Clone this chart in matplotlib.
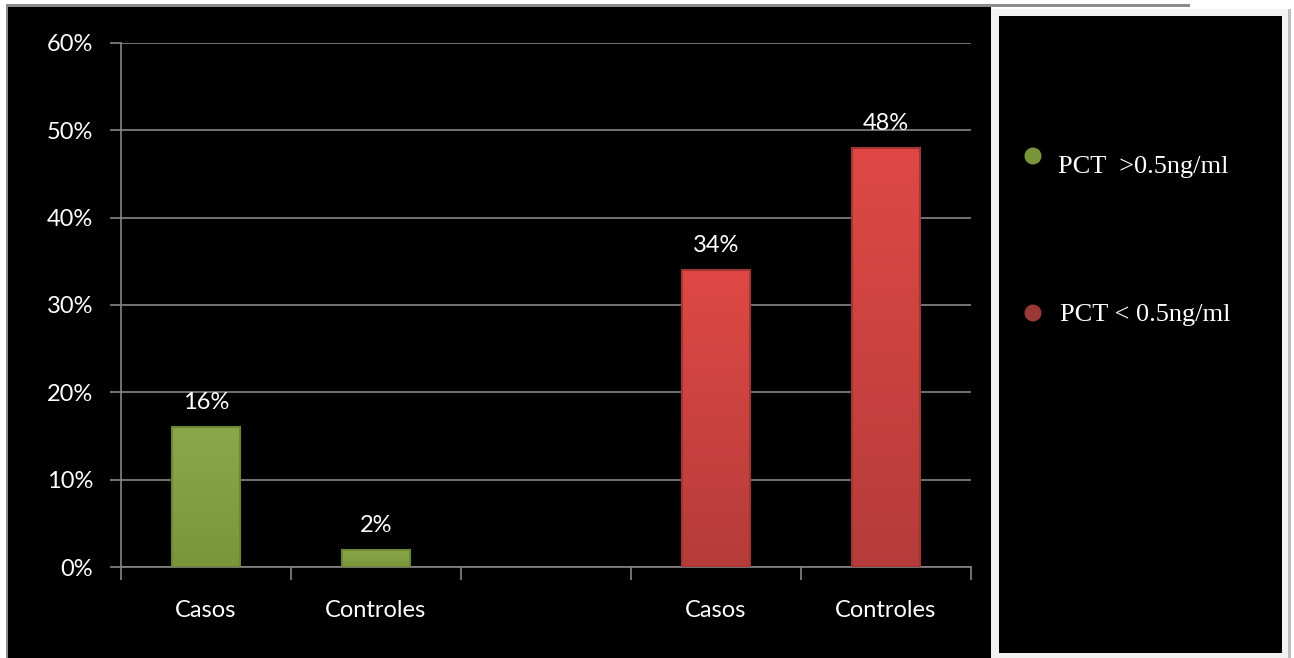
import matplotlib.pyplot as plt
import numpy as np
from matplotlib.colors import LinearSegmentedColormap
from matplotlib.patches import Rectangle, Ellipse

# data
categories = ["Casos", "Controles", "", "Casos", "Controles"]
green_values = [0.16, 0.02, 0, 0, 0]
red_values = [0, 0, 0, 0.34, 0.48]
y_ticks = [0, 0.1, 0.2, 0.3, 0.4, 0.5, 0.6]
legend_labels = ["PCT  >0.5ng/ml", "PCT < 0.5ng/ml"]

GREEN_TOP, GREEN_BOT = "#8aa84a", "#7a963b"
RED_TOP, RED_BOT = "#df4845", "#b53c3a"
GRID = "#868686"

W, H = 1294, 658
fig = plt.figure(figsize=(W / 100, H / 100), dpi=100, facecolor="white")


def px_rect(x0, y0, x1, y1, color, z=-10):
    # rectangle given in pixel coords, origin top-left
    fig.patches.append(Rectangle((x0 / W, 1 - y1 / H), (x1 - x0) / W, (y1 - y0) / H,
                                 transform=fig.transFigure, facecolor=color,
                                 edgecolor="none", zorder=z))


# backgrounds
px_rect(6, 4, 1190, 7, "#8c8c8c")
px_rect(6, 4, 8, 658, "#8c8c8c")
px_rect(8, 7, 991, 658, "black")
px_rect(991, 9, 1290, 658, "#f2f2f2")
px_rect(1288, 9, 1291, 658, "#bdbdbd")
px_rect(999, 16, 1282, 653, "black")

ax = fig.add_axes([121 / W, 1 - 567 / H, 850 / W, 524 / H])
ax.set_zorder(1)
ax.set_facecolor("black")

x = np.arange(len(categories))
bar_w = 0.4


def gradient_bars(values, top, bot, edge):
    cmap = LinearSegmentedColormap.from_list("g", [bot, top])
    bars = ax.bar(x, values, width=bar_w, color="none", edgecolor=edge,
                  linewidth=1.5, zorder=4)
    for b, v in zip(bars, values):
        if v <= 0:
            b.set_visible(False)
            continue
        grad = np.linspace(0, 1, 100).reshape(-1, 1)
        im = ax.imshow(grad, cmap=cmap, origin="lower", aspect="auto",
                       extent=[b.get_x(), b.get_x() + b.get_width(), 0, v],
                       zorder=3.5)
        im.set_clip_path(b)
        ax.text(b.get_x() + b.get_width() / 2, v + 0.016, f"{v * 100:.0f}%",
                ha="center", va="bottom", color="white", fontsize=17,
                family="Lato", zorder=5)
    return bars


gradient_bars(green_values, GREEN_TOP, GREEN_BOT, "#6d8734")
gradient_bars(red_values, RED_TOP, RED_BOT, "#a33533")

ax.set_xlim(-0.5, len(categories) - 0.5)
ax.set_ylim(0, 0.6)
ax.set_yticks(y_ticks)
ax.set_yticklabels([f"{t * 100:.0f}%" for t in y_ticks])
ax.yaxis.grid(True, color=GRID, linewidth=1.2, zorder=1)
ax.set_axisbelow(True)

ax.set_xticks(np.arange(len(categories) + 1) - 0.5, minor=False)
ax.set_xticklabels([])
ax.set_xticks(x, minor=True)
ax.set_xticklabels(categories, minor=True)
ax.tick_params(axis="x", which="major", length=9, width=1.2, color=GRID, direction="out")
ax.tick_params(axis="x", which="minor", length=0, pad=24, labelsize=17, labelcolor="white")
ax.tick_params(axis="y", length=8, width=1.2, color=GRID, pad=12, labelsize=17,
               labelcolor="white")
for lbl in ax.get_xticklabels(minor=True) + ax.get_yticklabels():
    lbl.set_family("Lato")

for s in ["top", "right"]:
    ax.spines[s].set_visible(False)
ax.spines["left"].set_color(GRID)
ax.spines["bottom"].set_color(GRID)
ax.spines["left"].set_linewidth(1.2)
ax.spines["bottom"].set_linewidth(1.2)

# legend panel
leg_colors = ["#789539", "#9a3836"]
leg_y = [156, 313]
for c, yy in zip(leg_colors, leg_y):
    fig.patches.append(Ellipse((1033 / W, 1 - yy / H), 17 / W, 17 / H,
                               transform=fig.transFigure, facecolor=c,
                               edgecolor="none", zorder=5))
fig.text(1058 / W, 1 - 167 / H, legend_labels[0], color="white",
         fontsize=19, family="Liberation Serif", va="center", ha="left", zorder=6)
fig.text(1060 / W, 1 - 315 / H, legend_labels[1], color="white",
         fontsize=19, family="Liberation Serif", va="center", ha="left", zorder=6)

fig.savefig("out.png", dpi=100, facecolor="white")
